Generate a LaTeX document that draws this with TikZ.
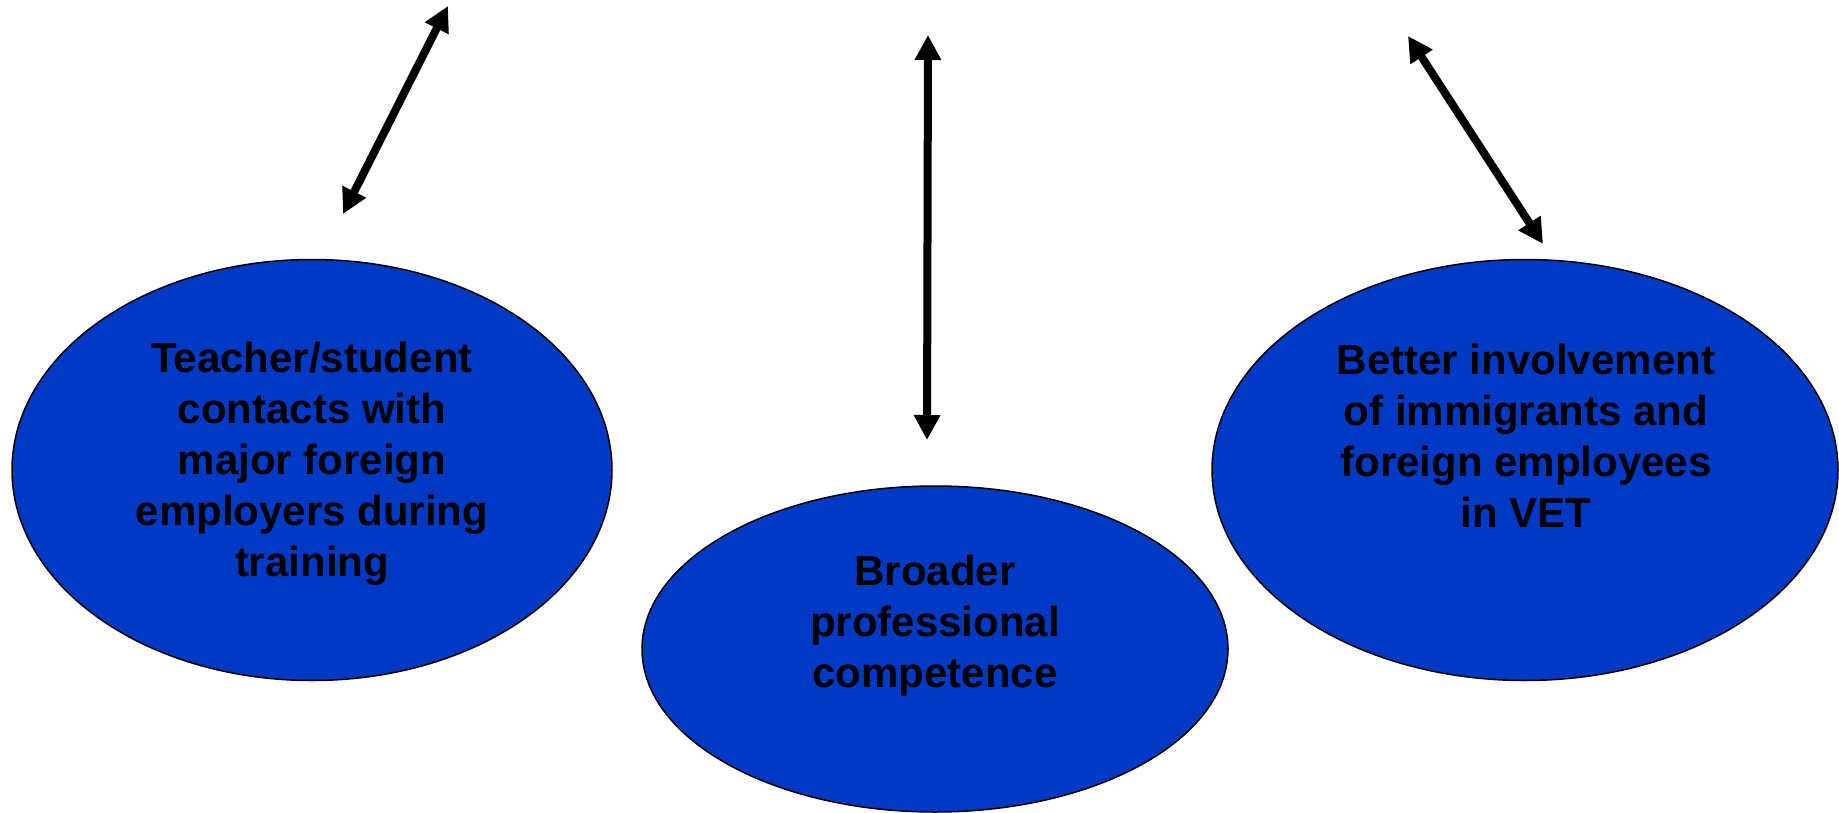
\documentclass[tikz,border=0pt]{standalone}
\usepackage{fontspec}
\setmainfont{Liberation Sans}
\usetikzlibrary{shapes.geometric,arrows.meta}
\definecolor{ovalblue}{RGB}{0,58,196}
\tikzset{
  oval/.style={ellipse, draw=black, line width=1.5pt, fill=ovalblue, inner sep=0pt},
  ovaltext/.style={align=center, font=\bfseries\fontsize{42}{51}\selectfont, text=black},
  dblarrow/.style={line width=8pt, {Triangle[length=25pt,width=25pt]}-{Triangle[length=25pt,width=25pt]}}
}
\begin{document}
\begin{tikzpicture}[x=1pt,y=-1pt]
\useasboundingbox (0,0) rectangle (1839,813);
\node[oval, minimum width=600pt, minimum height=421pt] (left) at (312,470) {};
\node[oval, minimum width=586pt, minimum height=326pt] (mid) at (935,649) {};
\node[oval, minimum width=626pt, minimum height=421pt] (right) at (1525,470) {};
\node[ovaltext] (lefttext) at (312,464) {Teacher/student\\contacts with\\major foreign\\employers during\\training};
\node[ovaltext] (midtext) at (935,626) {Broader\\professional\\competence};
\node[ovaltext] (righttext) at (1526,436) {Better involvement\\of immigrants and\\foreign employees\\in VET};
\coordinate (la) at (343,214);
\coordinate (lb) at (448,6);
\coordinate (ma) at (927,440);
\coordinate (mb) at (928,35);
\coordinate (ra) at (1543,244);
\coordinate (rb) at (1408,36);
\draw[dblarrow] (la) -- (lb);
\draw[dblarrow] (ma) -- (mb);
\draw[dblarrow] (ra) -- (rb);
\end{tikzpicture}
\end{document}
